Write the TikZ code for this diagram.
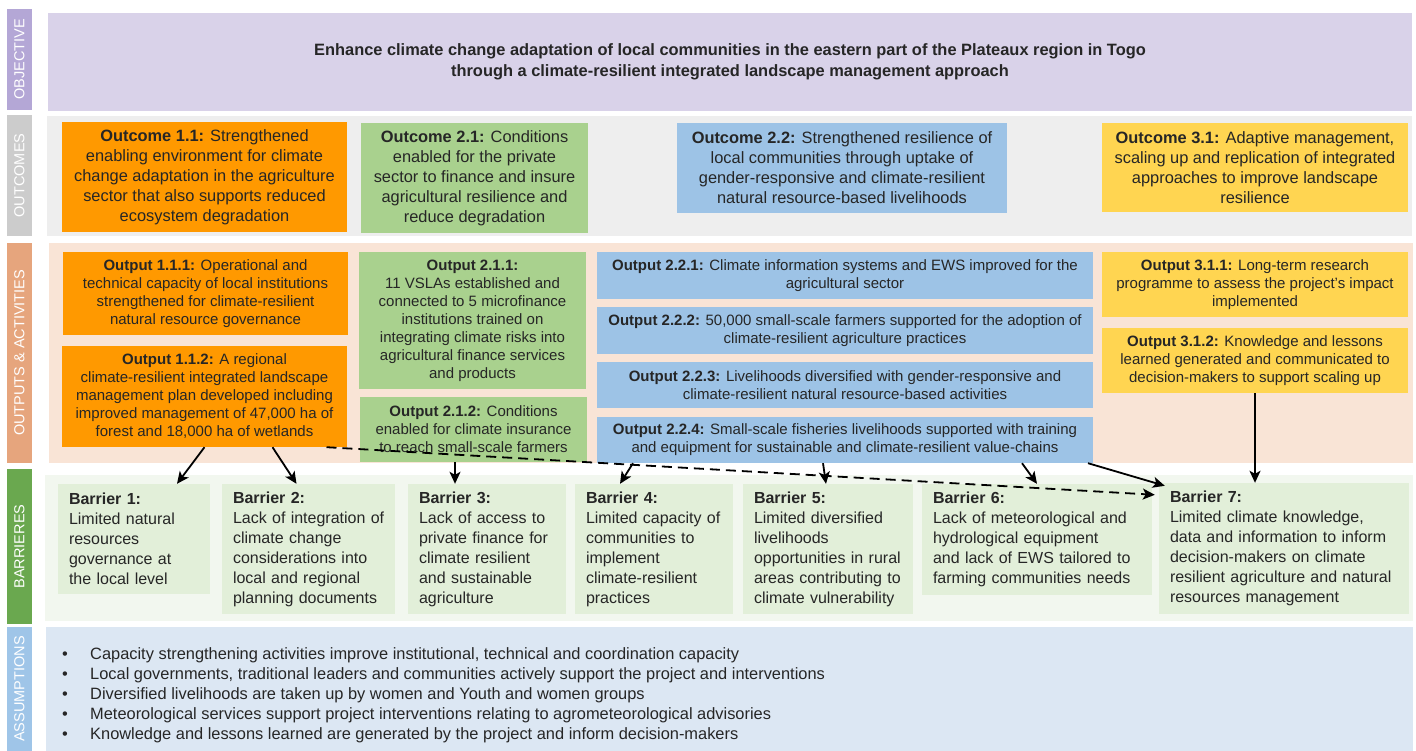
\documentclass[tikz,border=0pt]{standalone}
\usepackage{fontspec}
\setmainfont{Liberation Sans}
\usetikzlibrary{arrows.meta}

\definecolor{ink}{HTML}{262626}
\definecolor{objband}{HTML}{B4A7D6}
\definecolor{objpanel}{HTML}{D9D2E9}
\definecolor{ocband}{HTML}{CCCCCC}
\definecolor{ocpanel}{HTML}{EEEEEE}
\definecolor{opband}{HTML}{E6A57D}
\definecolor{oppanel}{HTML}{F9E4D6}
\definecolor{baband}{HTML}{6AA84F}
\definecolor{bapanel}{HTML}{F2F7EF}
\definecolor{babox}{HTML}{E2EFD9}
\definecolor{asband}{HTML}{9FC5E8}
\definecolor{aspanel}{HTML}{DCE7F3}
\definecolor{arancio}{HTML}{FF9900}
\definecolor{verde}{HTML}{A9D18E}
\definecolor{azzurro}{HTML}{9DC3E6}
\definecolor{giallo}{HTML}{FFD551}

\begin{document}
\begin{tikzpicture}[x=1pt, y=-1pt,
    every node/.style={inner sep=0pt, text=ink},
    band/.style={rotate=90, minimum height=25pt, text=white, font=\fontsize{14.5}{16}\selectfont},
    outcome/.style={align=center, font=\fontsize{16.4}{20}\selectfont},
    output/.style={align=center, font=\fontsize{15}{18}\selectfont},
    barrier/.style={fill=babox, align=left, inner xsep=11pt, minimum height=130pt, font=\fontsize{16}{20}\selectfont},
    arr/.style={-{Stealth[length=12pt, width=11pt, inset=3pt]}, line width=1.8pt}]

  \useasboundingbox (0,0) rectangle (1416,751);

  % Fasce laterali
  \node (sObj) at (19.5,59.5) [band, fill=objband, minimum width=101pt] {OBJECTIVE};
  \node (sOc) at (19.5,175.5) [band, fill=ocband, minimum width=121pt] {OUTCOMES};
  \node (sOp) at (19.5,353) [band, fill=opband, minimum width=220pt] {OUTPUTS \& ACTIVITIES};
  \node (sBa) at (19.5,546.5) [band, fill=baband, minimum width=155pt] {BARRIERES};
  \node (sAs) at (19.5,689) [band, fill=asband, minimum width=124pt] {ASSUMPTIONS};

  % Pannelli
  \node (pObj) at (730,62) [fill=objpanel, minimum width=1364pt, minimum height=98pt,
      align=center, font=\bfseries\fontsize{16.4}{21}\selectfont]
    {Enhance climate change adaptation of local communities in the eastern part of the Plateaux region in Togo\\
     through a climate-resilient integrated landscape management approach};
  \node (pOc) at (729.5,176) [fill=ocpanel, minimum width=1365pt, minimum height=120pt] {};
  \node (pOp) at (731,353) [fill=oppanel, minimum width=1364pt, minimum height=220pt] {};
  \node (pBa) at (729,548) [fill=bapanel, minimum width=1368pt, minimum height=146pt] {};
  \node (pAs) at (729.5,689) [fill=aspanel, minimum width=1367pt, minimum height=124pt] {};

  % Risultati
  \node (oc11) at (204.5,177) [outcome, fill=arancio, minimum width=285pt, minimum height=110pt]
    {\textbf{Outcome 1.1:} Strengthened\\ enabling environment for climate\\ change adaptation in the agriculture\\ sector that also supports reduced\\ ecosystem degradation};
  \node (oc21) at (474.5,178) [outcome, fill=verde, minimum width=227pt, minimum height=110pt]
    {\textbf{Outcome 2.1:} Conditions\\ enabled for the private\\ sector to finance and insure\\ agricultural resilience and\\ reduce degradation};
  \node (oc22) at (842,168) [outcome, fill=azzurro, minimum width=330pt, minimum height=90pt]
    {\textbf{Outcome 2.2:} Strengthened resilience of\\ local communities through uptake of\\ gender-responsive and climate-resilient\\ natural resource-based livelihoods};
  \node (oc31) at (1255,167.5) [outcome, fill=giallo, minimum width=306pt, minimum height=89pt]
    {\textbf{Outcome 3.1:} Adaptive management,\\ scaling up and replication of integrated\\ approaches to improve landscape\\ resilience};

  % Prodotti e attivita
  \node (op111) at (205.5,293.5) [output, fill=arancio, minimum width=285pt, minimum height=83pt]
    {\textbf{Output 1.1.1:} Operational and\\ technical capacity of local institutions\\ strengthened for climate-resilient\\ natural resource governance};
  \node (op112) at (204.5,396.5) [output, fill=arancio, minimum width=285pt, minimum height=101pt]
    {\textbf{Output 1.1.2:} A regional\\ climate-resilient integrated landscape\\ management plan developed including\\ improved management of 47,000 ha of\\ forest and 18,000 ha of wetlands};
  \node (op211) at (472.5,320.5) [output, fill=verde, minimum width=227pt, minimum height=137pt]
    {\textbf{Output 2.1.1:}\\ 11 VSLAs established and\\ connected to 5 microfinance\\ institutions trained on\\ integrating climate risks into\\ agricultural finance services\\ and products};
  \node (op212) at (473.5,429.5) [output, fill=verde, minimum width=227pt, minimum height=65pt]
    {\textbf{Output 2.1.2:} Conditions\\ enabled for climate insurance\\ to reach small-scale farmers};
  \node (op221) at (845,275.5) [output, fill=azzurro, minimum width=496pt, minimum height=47pt]
    {\textbf{Output 2.2.1:} Climate information systems and EWS improved for the\\ agricultural sector};
  \node (op222) at (845,330.5) [output, fill=azzurro, minimum width=496pt, minimum height=47pt]
    {\textbf{Output 2.2.2:} 50,000 small-scale farmers supported for the adoption of\\ climate-resilient agriculture practices};
  \node (op223) at (845,385) [output, fill=azzurro, minimum width=496pt, minimum height=46pt]
    {\textbf{Output 2.2.3:} Livelihoods diversified with gender-responsive and\\ climate-resilient natural resource-based activities};
  \node (op224) at (845,440) [output, fill=azzurro, minimum width=496pt, minimum height=46pt]
    {\textbf{Output 2.2.4:} Small-scale fisheries livelihoods supported with training\\ and equipment for sustainable and climate-resilient value-chains};
  \node (op311) at (1255,284.5) [output, fill=giallo, minimum width=306pt, minimum height=65pt]
    {\textbf{Output 3.1.1:} Long-term research\\ programme to assess the project's impact\\ implemented};
  \node (op312) at (1255,360.5) [output, fill=giallo, minimum width=306pt, minimum height=65pt]
    {\textbf{Output 3.1.2:} Knowledge and lessons\\ learned generated and communicated to\\ decision-makers to support scaling up};

  % Barriere
  \node (ba1) at (134,539) [barrier, text width=130pt, minimum height=110pt]
    {\textbf{Barrier 1:}\\ Limited natural\\ resources\\ governance at\\ the local level};
  \node (ba2) at (308.5,549) [barrier, text width=151pt]
    {\textbf{Barrier 2:}\\ \mbox{Lack of integration of}\\ climate change\\ considerations into\\ local and regional\\ planning documents};
  \node (ba3) at (487,549) [barrier, text width=136pt]
    {\textbf{Barrier 3:}\\ Lack of access to\\ private finance for\\ climate resilient\\ and sustainable\\ agriculture};
  \node (ba4) at (654,549) [barrier, text width=136pt]
    {\textbf{Barrier 4:}\\ Limited capacity of\\ communities to\\ implement\\ climate-resilient\\ practices};
  \node (ba5) at (828,549) [barrier, text width=148pt]
    {\textbf{Barrier 5:}\\ Limited diversified\\ livelihoods\\ \mbox{opportunities in rural}\\ \mbox{areas contributing to}\\ climate vulnerability};
  \node (ba6) at (1037,539.5) [barrier, text width=208pt, minimum height=111pt]
    {\textbf{Barrier 6:}\\ Lack of meteorological and\\ hydrological equipment\\ and lack of EWS tailored to\\ farming communities needs};
  \node (ba7) at (1284,548.5) [barrier, text width=228pt, minimum height=131pt]
    {\textbf{Barrier 7:}\\ Limited climate knowledge,\\ data and information to inform\\ decision-makers on climate\\ resilient agriculture and natural\\ resources management};

  % Ipotesi
  \node (as) at (62,647.5) [anchor=north west, align=left, font=\fontsize{16.4}{20}\selectfont]
    {\makebox[28pt][l]{\textbullet}Capacity strengthening activities improve institutional, technical and coordination capacity\\
     \makebox[28pt][l]{\textbullet}Local governments, traditional leaders and communities actively support the project and interventions\\
     \makebox[28pt][l]{\textbullet}Diversified livelihoods are taken up by women and Youth and women groups\\
     \makebox[28pt][l]{\textbullet}Meteorological services support project interventions relating to agrometeorological advisories\\
     \makebox[28pt][l]{\textbullet}Knowledge and lessons learned are generated by the project and inform decision-makers};

  % Collegamenti
  \draw[arr] (op112.south) -- ([xshift=43pt]ba1.north);
  \draw[arr] ([xshift=68pt]op112.south) -- ([xshift=-12pt]ba2.north);
  \draw[arr] ([xshift=-18.5pt]op212.south) -- ([xshift=-32pt]ba3.north);
  \draw[arr] ([xshift=-212pt]op224.south) -- ([xshift=-34pt]ba4.north);
  \draw[arr] ([xshift=-22pt]op224.south) -- ([xshift=-2pt]ba5.north);
  \draw[arr] ([xshift=177pt]op224.south) -- (ba6.north);
  \draw[arr] ([xshift=243pt]op224.south) -- ([xshift=6pt,yshift=-3pt]ba7.north west);
  \draw[arr] (op312.south) -- (op312.south |- ba7.north);
  \draw[arr, dash pattern=on 10pt off 6pt] ([xshift=122pt]op112.south) -- ([xshift=-4pt,yshift=-12pt]ba7.north west);
\end{tikzpicture}
\end{document}
